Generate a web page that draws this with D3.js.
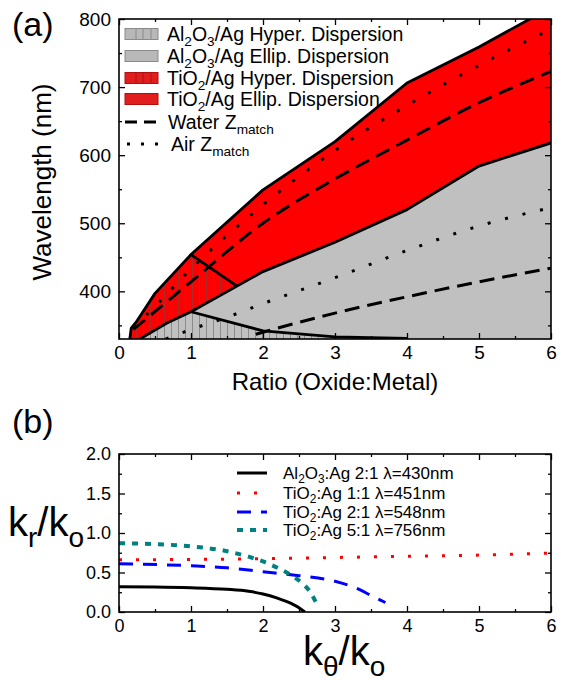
<!DOCTYPE html>
<html>
<head>
<meta charset="utf-8">
<title>Dispersion regions</title>
<script src="https://d3js.org/d3.v7.min.js"></script>
<style>
body { margin:0; background:#fff; }
svg text { font-family: "Liberation Sans", Arial, sans-serif; fill:#000; }
</style>
</head>
<body>
<svg id="chart" width="563" height="681"></svg>
<script>
// ---- panel (a) data : [ratio, wavelength nm] ----
var tiTop    = [[0.15,330],[0.17,346],[0.24,355],[0.5,397],[1,454],[2,549],[3,620],[4,706],[5,759],[6,817]];
var tiBottom = [[0.29,330],[0.66,353],[1,370],[2,429],[3,472],[4,520],[5,584],[6,618]];
var tiHyperEdge = [[1,454],[1.635,408]];
var alHyperEdge = [[1,370],[2,342],[3,333],[4,331]];
var waterTi = [[0.2,344],[1,414],[2,500],[3,565],[4,622],[5,677],[6,723]];
var airTi   = [[0.2,347],[0.5,378],[1,433],[2,527],[3,607],[4,673],[5,732],[6,785]];
var waterAl = [[1.9,337],[2,340],[3,368],[4,392],[5,414],[6,434]];
var airAl   = [[0.65,330],[1,344],[1.5,362],[2,382],[3,420],[4,460],[5,496],[6,523]];
var ticksAx = [0,1,2,3,4,5,6];
var ticksAy = [400,500,600,700,800];

// ---- panel (b) data : [k_theta/k_o, k_r/k_o] ----
var alAg21 = [[0,0.32],[0.5,0.317],[1,0.307],[1.5,0.287],[1.8,0.262],[2,0.228],[2.2,0.175],[2.4,0.105],[2.5,0.055],[2.58,0]];
var tiAg11 = [[0,0.66],[1,0.665],[2,0.675],[3,0.69],[4,0.705],[5,0.72],[6,0.745]];
var tiAg21 = [[0,0.61],[1,0.585],[1.5,0.56],[2,0.51],[2.5,0.46],[3,0.39],[3.3,0.30],[3.5,0.21],[3.7,0.12]];
var tiAg51 = [[0,0.87],[0.5,0.86],[1,0.83],[1.5,0.77],[1.8,0.70],[2,0.64],[2.2,0.56],[2.4,0.46],[2.55,0.36],[2.65,0.26],[2.72,0.15],[2.76,0.08]];
var ticksBx = [0,1,2,3,4,5,6];
var ticksBy = [0,0.5,1,1.5,2];

var svg = d3.select('#chart');
var defs = svg.append('defs');
var hatch = defs.append('pattern').attr('id','hatch').attr('patternUnits','userSpaceOnUse')
  .attr('width',7).attr('height',10);
hatch.append('line').attr('x1',3.5).attr('x2',3.5).attr('y1',0).attr('y2',10)
  .attr('stroke','#555').attr('stroke-width',0.9).attr('opacity',0.55);

// subscript text helper: parts = [[text, isSub], ...]
function richText(g, x, y, parts, fs) {
  var t = g.append('text').attr('x',x).attr('y',y).attr('font-size',fs+'px');
  var shifted = false;
  parts.forEach(function(p){
    var s = t.append('tspan').text(p[0]);
    if (p[1] && !shifted) { s.attr('font-size',(fs*0.7)+'px').attr('dy',fs*0.28); shifted = true; }
    else if (!p[1] && shifted) { s.attr('dy',-fs*0.28); shifted = false; }
    else if (p[1]) s.attr('font-size',(fs*0.7)+'px');
  });
  return t;
}

function frameAxes(g, x, y, xt, xminor, yt, yminor, xfmt, yfmt, fs) {
  var x0 = x.range()[0], x1 = x.range()[1], y0 = y.range()[0], y1 = y.range()[1];
  g.append('g').attr('transform','translate(0,'+y0+')')
    .call(d3.axisBottom(x).tickValues(xt).tickSize(-6).tickPadding(7).tickFormat(xfmt));
  g.append('g').attr('transform','translate(0,'+y0+')')
    .call(d3.axisBottom(x).tickValues(xminor).tickSize(-3).tickFormat(''));
  g.append('g').attr('transform','translate(0,'+y1+')')
    .call(d3.axisTop(x).tickValues(xt).tickSize(-6).tickFormat(''));
  g.append('g').attr('transform','translate(0,'+y1+')')
    .call(d3.axisTop(x).tickValues(xminor).tickSize(-3).tickFormat(''));
  g.append('g').attr('transform','translate('+x0+',0)')
    .call(d3.axisLeft(y).tickValues(yt).tickSize(-6).tickPadding(8).tickFormat(yfmt));
  g.append('g').attr('transform','translate('+x0+',0)')
    .call(d3.axisLeft(y).tickValues(yminor).tickSize(-3).tickFormat(''));
  g.append('g').attr('transform','translate('+x1+',0)')
    .call(d3.axisRight(y).tickValues(yt).tickSize(-6).tickFormat(''));
  g.append('g').attr('transform','translate('+x1+',0)')
    .call(d3.axisRight(y).tickValues(yminor).tickSize(-3).tickFormat(''));
  g.selectAll('.domain').remove();
  g.selectAll('.tick line').attr('stroke','#000').attr('stroke-width',1.3);
  g.selectAll('.tick text').attr('font-size',fs+'px').attr('font-family','"Liberation Sans", Arial, sans-serif').attr('fill','#000');
  g.append('rect').attr('x',x0).attr('y',y1).attr('width',x1-x0).attr('height',y0-y1)
    .attr('fill','none').attr('stroke','#000').attr('stroke-width',1.6);
}

// ================= panel (a) =================
var xA = d3.scaleLinear().domain([0,6]).range([119,551]);
var yA = d3.scaleLinear().domain([330,800]).range([339,19]);
var lineA = d3.line().x(function(d){return xA(d[0]);}).y(function(d){return yA(d[1]);});
var gA = svg.append('g');
defs.append('clipPath').attr('id','clipA').append('rect')
  .attr('x',xA(0)).attr('y',yA(800)).attr('width',xA(6)-xA(0)).attr('height',yA(330)-yA(800));
var plotA = gA.append('g').attr('clip-path','url(#clipA)');

function upTo(arr, xmax){ return arr.filter(function(d){return d[0] <= xmax;}); }
var yMin = 330;
// Al2O3 elliptic region (gray)
var grayPoly = tiBottom.concat([[6,yMin],[tiBottom[0][0],yMin]]);
plotA.append('path').attr('d',lineA(grayPoly)+'Z').attr('fill','#c0c0c0');
// Al2O3 hyperbolic region (gray, hatched)
var alHyp = upTo(tiBottom,1).concat(alHyperEdge.slice(1)).concat([[4,yMin],[tiBottom[0][0],yMin]]);
plotA.append('path').attr('d',lineA(alHyp)+'Z').attr('fill','url(#hatch)');
// TiO2 elliptic region (red)
var redPoly = tiTop.concat(tiBottom.slice().reverse()).concat([[tiTop[0][0],yMin]]);
plotA.append('path').attr('d',lineA(redPoly)+'Z').attr('fill','#ff0000');
// TiO2 hyperbolic region (red, hatched)
var tiHyp = upTo(tiTop,1).concat(tiHyperEdge.slice(1)).concat(upTo(tiBottom,1.6).reverse()).concat([[tiTop[0][0],yMin]]);
plotA.append('path').attr('d',lineA(tiHyp)+'Z').attr('fill','url(#hatch)');

// boundaries
[tiTop, tiBottom, tiHyperEdge, alHyperEdge].forEach(function(b){
  plotA.append('path').attr('d',lineA(b)).attr('fill','none').attr('stroke','#000')
    .attr('stroke-width',2.8).attr('stroke-linejoin','round');
});
// impedance matching lines
var curveA = d3.line().curve(d3.curveMonotoneX).x(function(d){return xA(d[0]);}).y(function(d){return yA(d[1]);});
[waterTi, waterAl].forEach(function(s){
  plotA.append('path').attr('d',curveA(s)).attr('fill','none').attr('stroke','#000')
    .attr('stroke-width',3).attr('stroke-dasharray','15,8');
});
[airTi, airAl].forEach(function(s){
  plotA.append('path').attr('d',curveA(s)).attr('fill','none').attr('stroke','#000')
    .attr('stroke-width',3).attr('stroke-dasharray','3,15');
});

frameAxes(gA, xA, yA, ticksAx, d3.range(0.5,6,1), ticksAy, [350,450,550,650,750], d3.format('d'), d3.format('d'), 19);

// legend (a)
var legA = gA.append('g');
var legItems = [
  {fill:'#b8b8b8', stroke:'#8a8a8a', hatch:true, cy:34, parts:[['Al',0],['2',1],['O',0],['3',1],['/Ag Hyper. Dispersion',0]]},
  {fill:'#b8b8b8', stroke:'#8a8a8a', hatch:false, cy:56, parts:[['Al',0],['2',1],['O',0],['3',1],['/Ag Ellip. Dispersion',0]]},
  {fill:'#e01e1e', stroke:'#b01010', hatch:true, cy:78, parts:[['TiO',0],['2',1],['/Ag Hyper. Dispersion',0]]},
  {fill:'#e01e1e', stroke:'#b01010', hatch:false, cy:99, parts:[['TiO',0],['2',1],['/Ag Ellip. Dispersion',0]]}
];
legItems.forEach(function(it){
  legA.append('rect').attr('x',125).attr('y',it.cy-5.5).attr('width',33).attr('height',11)
    .attr('fill',it.fill).attr('stroke',it.stroke).attr('stroke-width',1);
  if (it.hatch) [136,143,151].forEach(function(hx){
    legA.append('line').attr('x1',hx).attr('x2',hx).attr('y1',it.cy-5.5).attr('y2',it.cy+5.5)
      .attr('stroke',it.stroke).attr('stroke-width',1);
  });
  richText(legA, 167, it.cy+6.5, it.parts, 19.5);
});
legA.append('line').attr('x1',125).attr('x2',158).attr('y1',122).attr('y2',122)
  .attr('stroke','#000').attr('stroke-width',3).attr('stroke-dasharray','12,7');
richText(legA, 168, 129, [['Water Z',0],['match',1]], 19.5);
legA.append('line').attr('x1',127).attr('x2',158).attr('y1',144).attr('y2',144)
  .attr('stroke','#000').attr('stroke-width',3).attr('stroke-dasharray','3,11');
richText(legA, 171, 151, [['Air Z',0],['match',1]], 19.5);

// titles (a)
svg.append('text').attr('x',12).attr('y',36).attr('font-size','34px').text('(a)');
svg.append('text').attr('transform','translate(51,182) rotate(-90)').attr('text-anchor','middle')
  .attr('font-size','26px').text('Wavelength (nm)');
svg.append('text').attr('x',335).attr('y',390).attr('text-anchor','middle')
  .attr('font-size','24px').text('Ratio (Oxide:Metal)');

// ================= panel (b) =================
var xB = d3.scaleLinear().domain([0,6]).range([119,551]);
var yB = d3.scaleLinear().domain([0,2]).range([612,454]);
var gB = svg.append('g');
defs.append('clipPath').attr('id','clipB').append('rect')
  .attr('x',xB(0)).attr('y',yB(2)).attr('width',xB(6)-xB(0)).attr('height',yB(0)-yB(2));
var plotB = gB.append('g').attr('clip-path','url(#clipB)');
var curveB = d3.line().curve(d3.curveMonotoneX).x(function(d){return xB(d[0]);}).y(function(d){return yB(d[1]);});

var seriesB = [
  {data:alAg21, color:'#000000', width:3, dash:null, parts:[['Al',0],['2',1],['O',0],['3',1],[':Ag 2:1 \u03bb=430nm',0]]},
  {data:tiAg11, color:'#ff0000', width:3, dash:'3,14', parts:[['TiO',0],['2',1],[':Ag 1:1 \u03bb=451nm',0]]},
  {data:tiAg21, color:'#0000ff', width:3, dash:'14,10', parts:[['TiO',0],['2',1],[':Ag 2:1 \u03bb=548nm',0]]},
  {data:tiAg51, color:'#008080', width:4, dash:'6,7', parts:[['TiO',0],['2',1],[':Ag 5:1 \u03bb=756nm',0]]}
];
seriesB.forEach(function(s){
  var p = plotB.append('path').attr('d',curveB(s.data)).attr('fill','none')
    .attr('stroke',s.color).attr('stroke-width',s.width);
  if (s.dash) p.attr('stroke-dasharray',s.dash);
});

frameAxes(gB, xB, yB, ticksBx, d3.range(0.5,6,1), ticksBy, [0.25,0.75,1.25,1.75], d3.format('d'), d3.format('.1f'), 18);

var legB = gB.append('g');
var legBy = [473,493,512,530];
seriesB.forEach(function(s,i){
  var l = legB.append('line').attr('x1',237).attr('x2',267).attr('y1',legBy[i]).attr('y2',legBy[i])
    .attr('stroke',s.color).attr('stroke-width',s.width);
  if (s.dash) l.attr('stroke-dasharray',s.dash);
  richText(legB, 283, legBy[i]+5.5, s.parts, 17);
});

// titles (b)
svg.append('text').attr('x',12).attr('y',433).attr('font-size','34px').text('(b)');
richText(svg, 8, 536, [['k',0],['r',1],['/k',0],['o',1]], 40);
richText(svg, 303, 665, [['k',0],['\u03b8',1],['/k',0],['o',1]], 40);
</script>
</body>
</html>
